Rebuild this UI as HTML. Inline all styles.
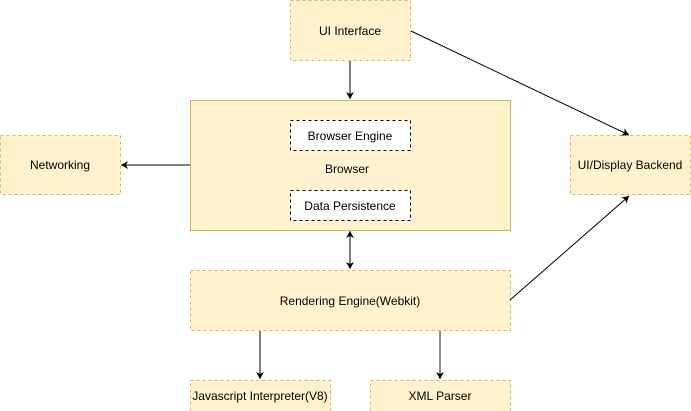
<!DOCTYPE html>
<html><head><meta charset="utf-8"><style>
html,body{margin:0;padding:0;background:#fff;width:691px;height:411px;overflow:hidden}
text{font-family:"Liberation Sans",Helvetica,sans-serif;font-size:12px;fill:#000}
</style></head><body>
<svg width="691" height="411" viewBox="0 0 691 411" xmlns="http://www.w3.org/2000/svg">
<defs><marker id="a" markerWidth="10" markerHeight="10" refX="8" refY="5" orient="auto" markerUnits="userSpaceOnUse"><path d="M1,1 L8,5 L1,9 L3,5 Z" fill="#000"/></marker></defs>
<g fill="#fff2cc" stroke="#d6b656">
<rect x="290.5" y="0.5" width="120" height="60" stroke-dasharray="3,3"/>
<rect x="190.5" y="100.5" width="320" height="130"/>
<rect x="0.5" y="135.5" width="120" height="59" stroke-dasharray="3,3"/>
<rect x="570.5" y="135.5" width="120" height="59" stroke-dasharray="3,3"/>
<rect x="190.5" y="270.5" width="320" height="60" stroke-dasharray="3,3"/>
<rect x="190.5" y="380.5" width="140" height="40" stroke-dasharray="3,3"/>
<rect x="370.5" y="380.5" width="140" height="40" stroke-dasharray="3,3"/>
</g>
<g fill="#fff" stroke="#000" stroke-dasharray="3,3">
<rect x="290.5" y="120.5" width="120" height="30"/>
<rect x="290.5" y="190.5" width="120" height="30"/>
</g>
<g stroke="#000" fill="none" marker-end="url(#a)">
<line x1="350" y1="61" x2="350" y2="99"/>
<line x1="411" y1="31" x2="629" y2="135"/>
<line x1="190" y1="165" x2="121" y2="165"/>
<line x1="350" y1="250" x2="350" y2="269"/>
<line x1="350" y1="250" x2="350" y2="231"/>
<line x1="510" y1="300" x2="629" y2="196"/>
<line x1="260" y1="331" x2="260" y2="379"/>
<line x1="440" y1="331" x2="440" y2="379" stroke="#666" stroke-width="1.5"/>
</g>
<g text-anchor="middle">
<text x="350" y="35">UI Interface</text>
<text x="350" y="140">Browser Engine</text>
<text x="347" y="173">Browser</text>
<text x="350" y="210">Data Persistence</text>
<text x="60" y="169">Networking</text>
<text x="630" y="169">UI/Display Backend</text>
<text x="350" y="305">Rendering Engine(Webkit)</text>
<text x="260" y="400">Javascript Interpreter(V8)</text>
<text x="440" y="400">XML Parser</text>
</g>
</svg>
</body></html>
